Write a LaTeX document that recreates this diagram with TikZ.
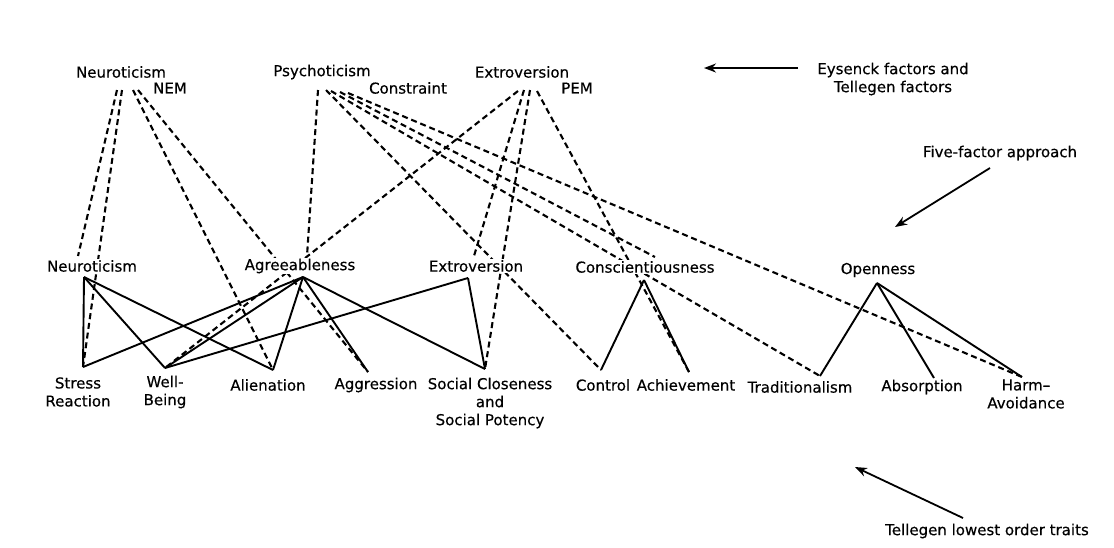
\documentclass[tikz,border=0pt]{standalone}
\usepackage{fontspec}
\setmainfont{DejaVu Sans}[FakeBold=0.4]
\usetikzlibrary{arrows.meta}
\begin{document}
\begin{tikzpicture}[x=1pt,y=-1pt,
  lbl/.style={font=\fontsize{15}{18}\selectfont, inner sep=1pt, align=center},
  mid/.style={lbl, fill=white},
  dsh/.style={line width=2.1pt, dash pattern=on 6pt off 3.8pt},
  sol/.style={line width=1.9pt},
  pointer/.style={line width=1.8pt, -{Stealth[length=12pt,width=9pt]}}]
\useasboundingbox[fill=white] (0,0) rectangle (1114,547);

% ---------- top apex points ----------
\coordinate (aN1) at (117,90);
\coordinate (aN2) at (122,90);
\coordinate (aM1) at (133,90);
\coordinate (aM2) at (138,90);
\coordinate (aP0) at (318,90);
\coordinate (aP1) at (326,90);
\coordinate (aP2) at (331,91);
\coordinate (aP3) at (340,92);
\coordinate (aP4) at (348,93);
\coordinate (aE1) at (518,91);
\coordinate (aE2) at (524,90);
\coordinate (aE3) at (530,90);
\coordinate (aE4) at (537,91);

% ---------- middle row ends ----------
\coordinate (tNeu) at (78,256);
\coordinate (tAgr) at (307,256);
\coordinate (tExt) at (474,256);
\coordinate (tCon) at (655,257);
\coordinate (nNeu) at (84,277);
\coordinate (nAgr) at (303,277);
\coordinate (nExt) at (468,278);
\coordinate (nCon) at (644,280);
\coordinate (nOpe) at (877,283);

% ---------- bottom apex points ----------
\coordinate (sStr) at (83,367);
\coordinate (sWel) at (165,368);
\coordinate (sAli) at (273,370);
\coordinate (sAgg) at (368,372);
\coordinate (sSoc) at (485,369);
\coordinate (sCtl) at (601,370);
\coordinate (sAch) at (689,372);
\coordinate (sTra) at (820,376);
\coordinate (sAbs) at (934,378);
\coordinate (sHar) at (1022,377);

% ---------- dashed connectors ----------
\draw[dsh] (aN1) -- (tNeu);
\draw[dsh] (aN2) -- (sStr);
\draw[dsh] (aM1) -- (sAli);
\draw[dsh] (aM2) -- (sAgg);
\draw[dsh] (aP0) -- (tAgr);
\draw[dsh] (aP1) -- (sCtl);
\draw[dsh] (aP2) -- (sTra);
\draw[dsh] (aP3) -- (tCon);
\draw[dsh] (aP4) -- (sHar);
\draw[dsh] (aE1) -- (sWel);
\draw[dsh] (aE2) -- (tExt);
\draw[dsh] (aE3) -- (sSoc);
\draw[dsh] (aE4) -- (sAch);

% ---------- middle row labels (cover lines passing through) ----------
\node[mid] (mNeu) at (92,266) {Neuroticism};
\node[mid] (mAgr) at (300,266) {Agreeableness};
\node[mid] (mExt) at (476,266) {Extroversion};
\node[mid] (mCon) at (645,267) {Conscientiousness};
\node[mid] (mOpe) at (878,270) {Openness};

% ---------- solid connectors ----------
\draw[sol] (nNeu) -- (sStr);
\draw[sol] (nNeu) -- (sWel);
\draw[sol] (nNeu) -- (sAli);
\draw[sol] (nAgr) -- (sStr);
\draw[sol] (nAgr) -- (sWel);
\draw[sol] (nAgr) -- (sAli);
\draw[sol] (nAgr) -- (sAgg);
\draw[sol] (nAgr) -- (sSoc);
\draw[sol] (nExt) -- (sWel);
\draw[sol] (nExt) -- (sSoc);
\draw[sol] (nCon) -- (sCtl);
\draw[sol] (nCon) -- (sAch);
\draw[sol] (nOpe) -- (sTra);
\draw[sol] (nOpe) -- (sAbs);
\draw[sol] (nOpe) -- (sHar);

% ---------- top labels ----------
\node[lbl] (tN) at (121,72) {Neuroticism};
\node[lbl] (tNEM) at (170,88) {NEM};
\node[lbl] (tP) at (322,72) {Psychoticism};
\node[lbl] (tC) at (408,88) {Constraint};
\node[lbl] (tE) at (522,72) {Extroversion};
\node[lbl] (tPEM) at (577,88) {PEM};

% ---------- bottom labels ----------
\node[lbl] (bStr) at (78,392) {Stress\\Reaction};
\node[lbl] (bWel) at (165,392) {Well-\\Being};
\node[lbl] (bAli) at (268,385) {Alienation};
\node[lbl] (bAgg) at (376,385) {Aggression};
\node[lbl] (bSoc) at (490,403) {Social Closeness\\and\\Social Potency};
\node[lbl] (bCtl) at (603,385) {Control};
\node[lbl] (bAch) at (686,385) {Achievement};
\node[lbl] (bTra) at (800,387) {Traditionalism};
\node[lbl] (bAbs) at (922,387) {Absorption};
\node[lbl] (bHar) at (1026,394) {Harm--\\Avoidance};

% ---------- annotations ----------
\node[lbl] (eys) at (893,79) {Eysenck factors and\\Tellegen factors};
\node[lbl] (ffa) at (1000,153) {Five-factor approach};
\node[lbl] (tlo) at (987,531) {Tellegen lowest order traits};
\coordinate (eysA) at (798,68);
\coordinate (eysB) at (704,68);
\coordinate (ffaA) at (990,168);
\coordinate (ffaB) at (895,227);
\coordinate (tloA) at (963,518);
\coordinate (tloB) at (855,467);
\draw[pointer] (eysA) -- (eysB);
\draw[pointer] (ffaA) -- (ffaB);
\draw[pointer] (tloA) -- (tloB);
\end{tikzpicture}
\end{document}
